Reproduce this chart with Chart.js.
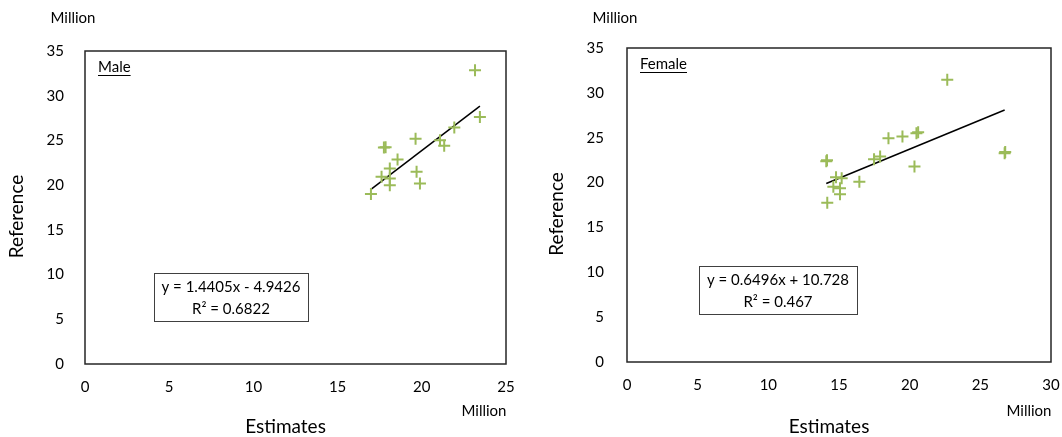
<!DOCTYPE html>
<html>
<head>
<meta charset="utf-8">
<title>Estimates vs Reference</title>
<script src="https://cdn.jsdelivr.net/npm/chart.js@4.4.1/dist/chart.umd.min.js"></script>
<style>
  html, body { margin: 0; padding: 0; background: #fff; }
  .panel { position: absolute; top: 0; height: 437px; }
  #malePanel { left: 0; width: 540px; }
  #femalePanel { left: 540px; width: 522px; }
</style>
</head>
<body>
<div class="panel" id="malePanel"><canvas id="maleChart"></canvas></div>
<div class="panel" id="femalePanel"><canvas id="femaleChart"></canvas></div>
<script>
// values (millions)
const maleEstimates = [23.16, 23.45, 21.93, 19.63, 17.75, 17.85, 21.08, 21.33, 18.56, 18.1, 17.61, 18.1, 18.1, 19.69, 19.89, 16.98];
const maleReference = [32.85, 27.63, 26.45, 25.2, 24.2, 24.25, 25.03, 24.4, 22.87, 21.87, 20.93, 20.75, 20.0, 21.49, 20.19, 19.0];
const maleTrendX = [16.98, 23.45];
const maleTrendY = [19.52, 28.84];

const femaleEstimates = [22.66, 26.72, 26.76, 20.48, 20.6, 19.49, 18.5, 17.91, 17.48, 20.34, 14.1, 14.15, 16.44, 14.79, 15.19, 14.6, 15.07, 15.07, 14.17];
const femaleReference = [31.46, 23.27, 23.4, 25.51, 25.6, 25.13, 24.95, 22.9, 22.6, 21.78, 22.38, 22.5, 20.1, 20.59, 20.48, 19.54, 19.37, 18.7, 17.76];
const femaleTrendX = [14.1, 26.72];
const femaleTrendY = [19.89, 28.09];

const yTicks = [0, 5, 10, 15, 20, 25, 30, 35];
const maleXMax = 25;
const femaleXMax = 30;

const FONT = 'Lato, "Open Sans", sans-serif';

const notes = {
  id: 'notes',
  afterDraw(chart, args, o) {
    const { ctx, chartArea: a } = chart;
    ctx.save();
    // frame round the plot area
    ctx.strokeStyle = '#262626';
    ctx.lineWidth = 1.5;
    ctx.strokeRect(a.left, a.top, a.right - a.left, a.bottom - a.top);

    // axis titles (a little off-centre, as in the original)
    ctx.fillStyle = '#000';
    ctx.font = '19px ' + FONT;
    ctx.textAlign = 'center';
    ctx.textBaseline = 'middle';
    ctx.fillText('Estimates', (a.left + a.right) / 2 - 10, 427);
    ctx.save();
    ctx.translate(17, (a.top + a.bottom) / 2 + 9);
    ctx.rotate(-Math.PI / 2);
    ctx.fillText('Reference', 0, 0);
    ctx.restore();

    ctx.font = '15px ' + FONT;
    ctx.fillText('Million', o.unitX, 18);
    ctx.fillText('Million', a.right - 22, 411);

    // panel tag, underlined
    ctx.textAlign = 'left';
    ctx.textBaseline = 'alphabetic';
    const tx = a.left + 13, ty = a.top + 21;
    ctx.fillText(o.tag, tx, ty);
    const w = ctx.measureText(o.tag).width;
    ctx.lineWidth = 1;
    ctx.strokeStyle = '#000';
    ctx.beginPath();
    ctx.moveTo(tx, ty + 3.5);
    ctx.lineTo(tx + w, ty + 3.5);
    ctx.stroke();

    // trendline equation box
    const bx = a.left + o.box[0], by = a.top + o.box[1];
    ctx.fillStyle = '#fff';
    ctx.fillRect(bx, by, o.box[2], o.box[3]);
    ctx.strokeStyle = '#404040';
    ctx.lineWidth = 1;
    ctx.strokeRect(bx + 0.5, by + 0.5, o.box[2], o.box[3]);
    ctx.fillStyle = '#000';
    ctx.textAlign = 'center';
    ctx.textBaseline = 'middle';
    ctx.fillText(o.eq, bx + o.box[2] / 2, by + 14);
    ctx.fillText(o.r2, bx + o.box[2] / 2, by + 36);
    ctx.restore();
  }
};

function makeChart(id, xs, ys, tx, ty, xMax, cfg) {
  const pts = xs.map((x, i) => ({ x: x, y: ys[i] }));
  const trend = tx.map((x, i) => ({ x: x, y: ty[i] }));
  return new Chart(id, {
    type: 'scatter',
    data: {
      datasets: [
        {
          data: pts,
          pointStyle: 'cross',
          pointRadius: 6,
          pointBorderWidth: 2,
          borderColor: '#9BBB59',
          backgroundColor: '#9BBB59'
        },
        {
          data: trend,
          showLine: true,
          pointRadius: 0,
          borderColor: '#000',
          borderWidth: 1.5
        }
      ]
    },
    options: {
      responsive: true,
      maintainAspectRatio: false,
      animation: false,
      layout: { padding: { top: cfg.top, right: cfg.right, left: 0, bottom: 0 } },
      plugins: {
        legend: { display: false },
        tooltip: { enabled: false },
        notes: cfg.notes
      },
      scales: {
        x: {
          type: 'linear',
          min: 0,
          max: xMax,
          grid: { display: false, drawTicks: false },
          border: { display: false },
          ticks: { stepSize: 5, padding: 14, color: '#000', font: { family: FONT, size: 15 } },
          afterFit: (s) => { s.height = cfg.xHeight; s.paddingLeft = 0; s.paddingRight = 0; }
        },
        y: {
          type: 'linear',
          min: 0,
          max: 35,
          afterBuildTicks: (s) => { s.ticks = yTicks.map(v => ({ value: v })); },
          grid: { display: false, drawTicks: false },
          border: { display: false },
          ticks: { padding: cfg.yPad, color: '#000', font: { family: FONT, size: 15 } },
          afterFit: (s) => { s.width = cfg.yWidth; s.paddingTop = 0; s.paddingBottom = 0; }
        }
      }
    },
    plugins: [notes]
  });
}

makeChart('maleChart', maleEstimates, maleReference, maleTrendX, maleTrendY, maleXMax, {
  top: 51, right: 34, xHeight: 73, yWidth: 85, yPad: 21,
  notes: { tag: 'Male', unitX: 73, eq: 'y = 1.4405x - 4.9426', r2: 'R\u00B2 = 0.6822', box: [69, 222, 154, 48] }
});

makeChart('femaleChart', femaleEstimates, femaleReference, femaleTrendX, femaleTrendY, femaleXMax, {
  top: 48, right: 11, xHeight: 75, yWidth: 87, yPad: 23,
  notes: { tag: 'Female', unitX: 75, eq: 'y = 0.6496x + 10.728', r2: 'R\u00B2 = 0.467', box: [72, 218, 158, 48] }
});
</script>
</body>
</html>
